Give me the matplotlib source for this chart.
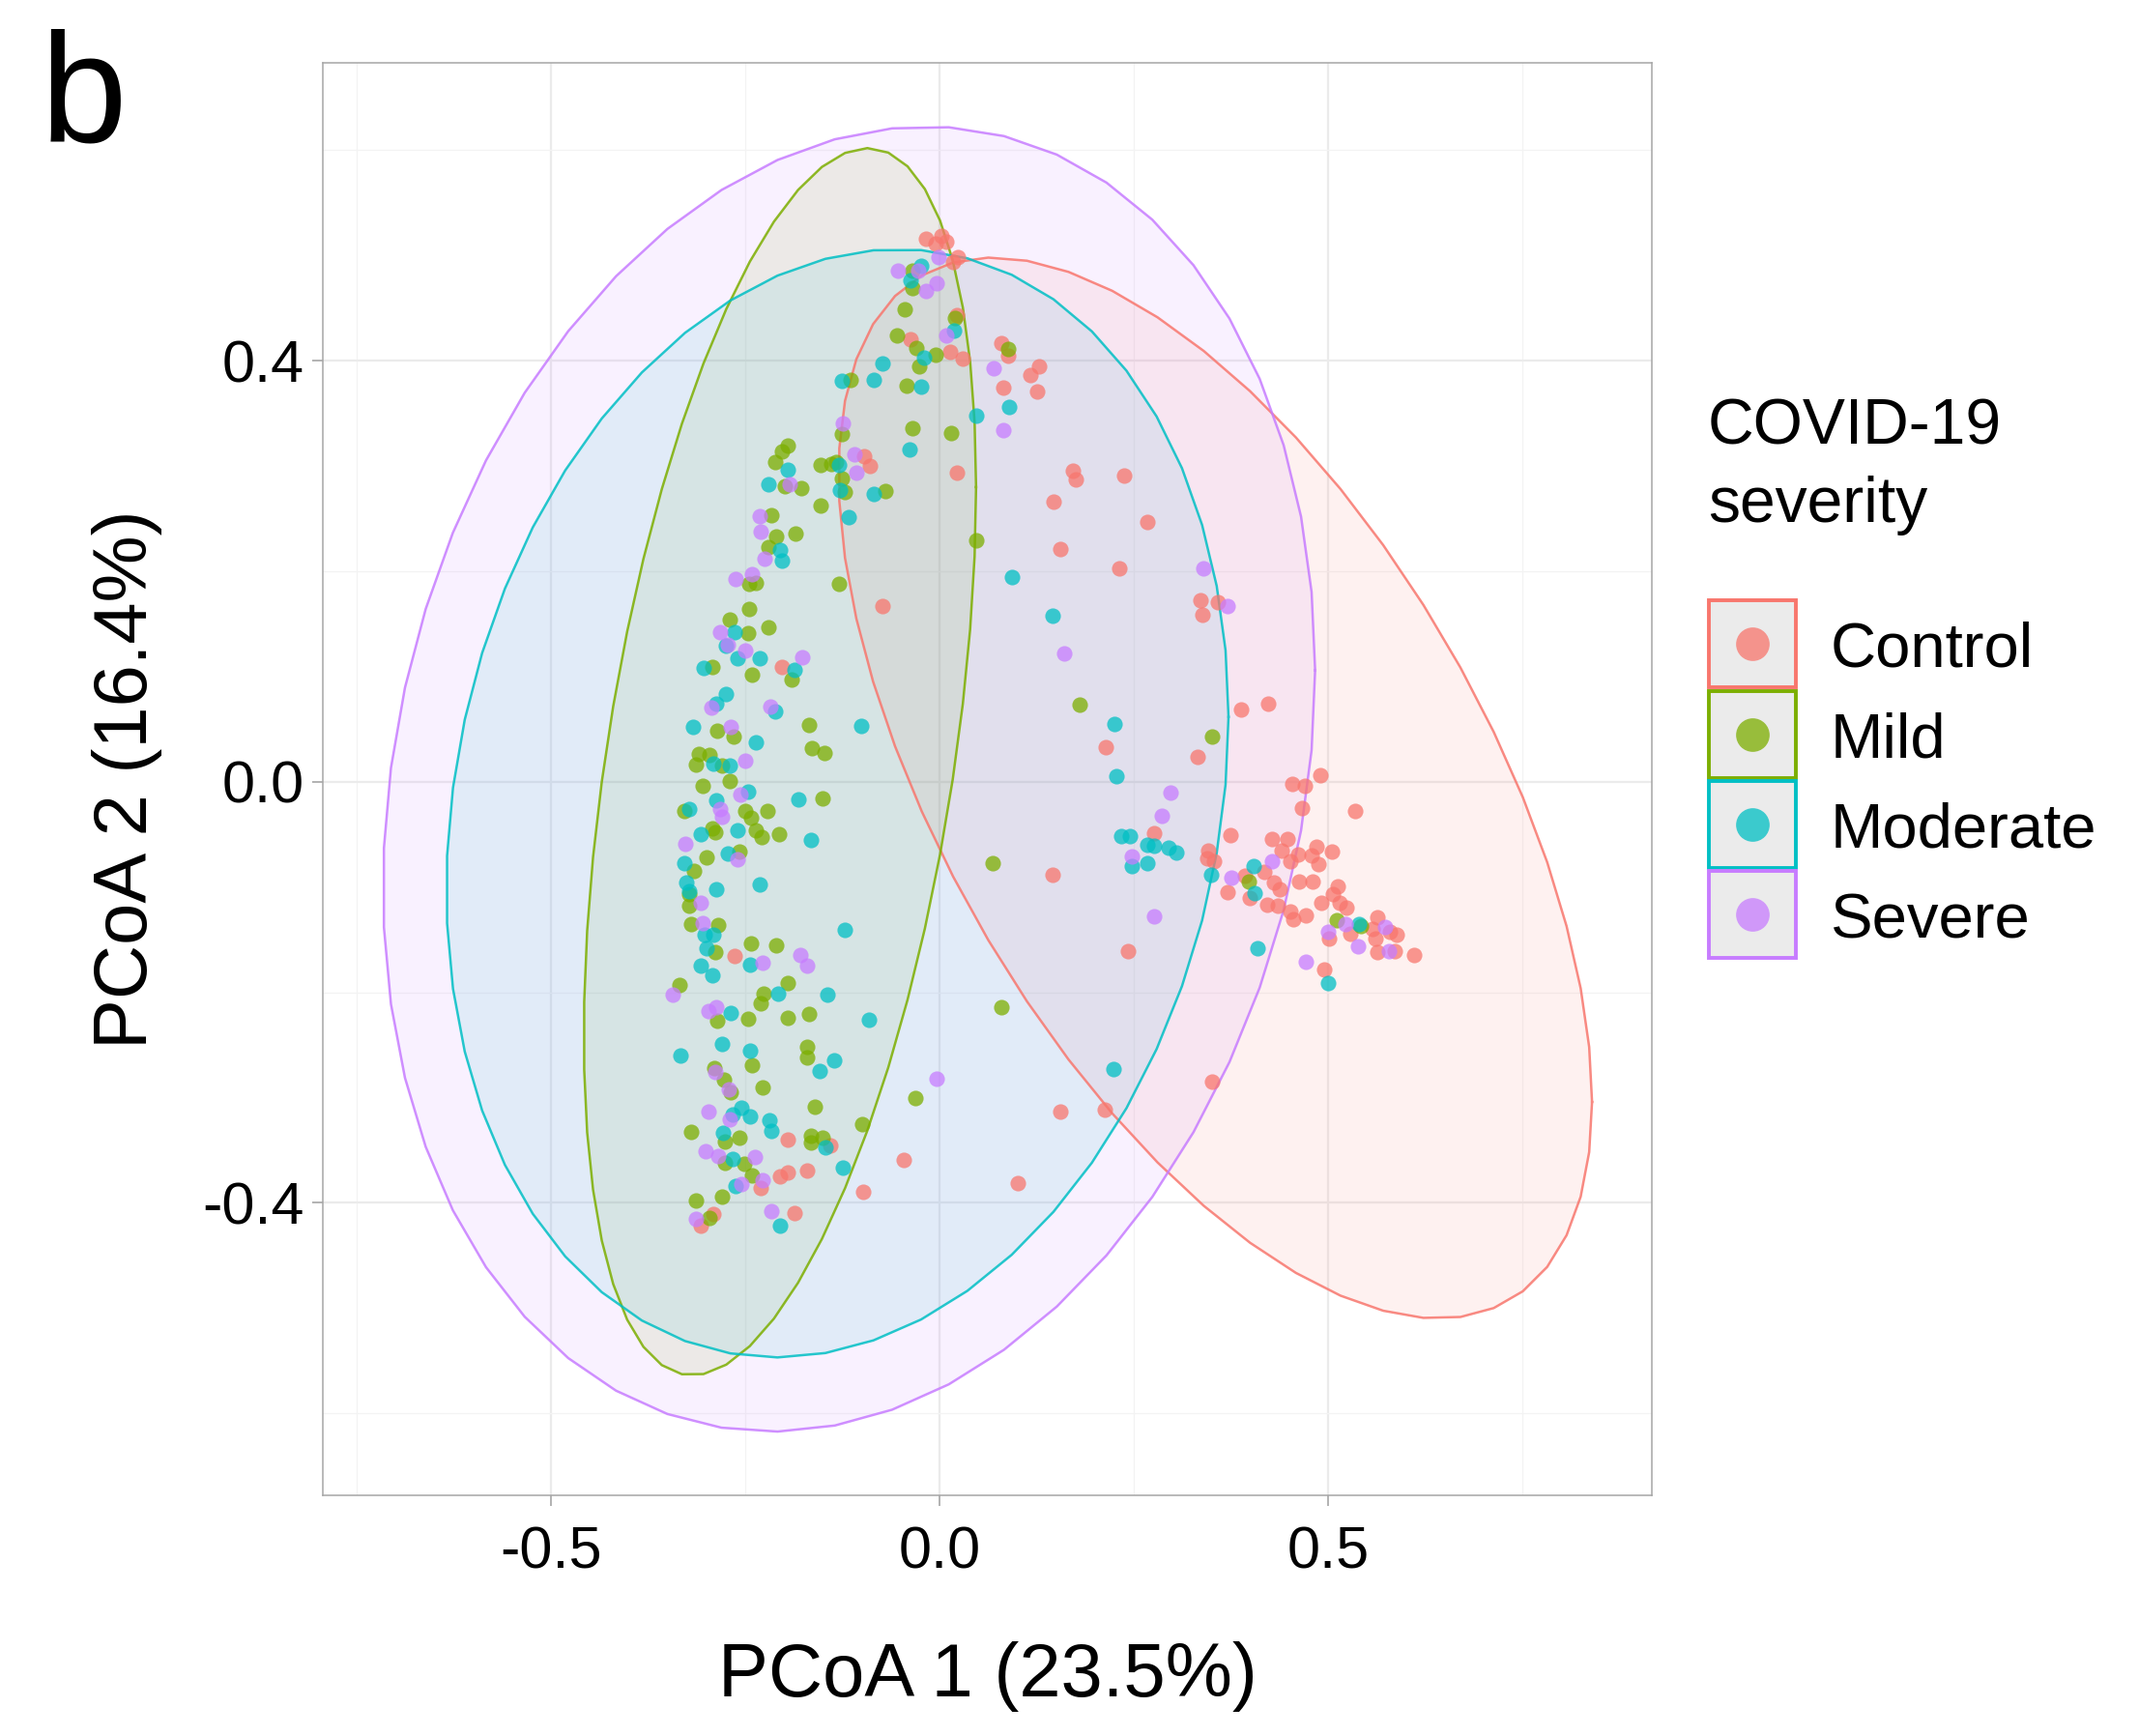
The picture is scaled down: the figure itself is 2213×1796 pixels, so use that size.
import numpy as np
import matplotlib
matplotlib.use("Agg")
import matplotlib.pyplot as plt
from matplotlib.patches import Rectangle
from matplotlib.lines import Line2D

plt.rcParams['font.family'] = ['Liberation Sans', 'DejaVu Sans']

# groups and ggplot default hue colours
groups = ['Control', 'Mild', 'Moderate', 'Severe']
colors = ['#F8766D', '#7CAE00', '#00BFC4', '#C77CFF']

# PCoA coordinates (PCoA1, PCoA2)
control_pts = np.array([
    (-0.018, 0.516), (0.003, 0.519), (0.009, 0.513), (-0.005, 0.511), (0.023, 0.498),
    (0.017, 0.494), (0.022, 0.443), (-0.037, 0.420), (0.013, 0.408), (0.030, 0.402),
    (0.080, 0.417), (0.088, 0.405), (0.082, 0.374), (0.117, 0.386), (0.128, 0.395),
    (0.126, 0.371), (-0.097, 0.309), (-0.090, 0.300), (0.022, 0.294),
    (0.172, 0.295), (0.175, 0.287), (0.238, 0.291), (0.147, 0.266), (0.267, 0.247),
    (0.155, 0.221), (0.231, 0.203), (-0.203, 0.109), (-0.073, 0.167),
    (0.336, 0.172), (0.358, 0.171), (0.338, 0.159), (0.388, 0.069), (0.423, 0.074),
    (0.214, 0.033), (0.332, 0.024), (0.490, 0.006), (0.454, -0.002), (0.470, -0.004),
    (0.535, -0.028), (0.466, -0.025), (0.276, -0.049), (0.375, -0.051), (0.428, -0.054),
    (0.448, -0.054), (0.346, -0.065), (0.345, -0.073), (0.353, -0.076), (0.440, -0.065),
    (0.461, -0.069), (0.451, -0.076), (0.485, -0.062), (0.479, -0.070), (0.488, -0.078),
    (0.505, -0.066), (0.418, -0.086), (0.393, -0.089), (0.430, -0.096), (0.438, -0.102),
    (0.463, -0.095), (0.480, -0.095), (0.513, -0.099), (0.506, -0.107), (0.371, -0.105),
    (0.399, -0.110), (0.145, -0.088),
    (0.422, -0.117), (0.436, -0.118), (0.451, -0.123), (0.455, -0.131), (0.471, -0.127),
    (0.492, -0.115), (0.515, -0.115), (0.524, -0.120), (0.501, -0.149), (0.529, -0.144),
    (0.563, -0.129), (0.557, -0.140), (0.561, -0.149), (0.580, -0.143), (0.588, -0.145),
    (0.563, -0.162), (0.586, -0.161), (0.611, -0.165), (0.495, -0.178), (0.243, -0.161),
    (0.156, -0.313), (0.213, -0.312), (0.351, -0.285),
    (-0.264, -0.166), (-0.195, -0.340), (-0.141, -0.346), (-0.206, -0.375), (-0.195, -0.371),
    (-0.170, -0.369), (-0.230, -0.386), (-0.187, -0.410), (-0.291, -0.411), (-0.308, -0.422),
    (-0.098, -0.390), (-0.046, -0.359), (0.101, -0.381),
])

mild_pts = np.array([
    (-0.035, 0.486), (-0.035, 0.469), (-0.045, 0.449), (0.020, 0.441), (-0.055, 0.424),
    (-0.030, 0.412), (-0.005, 0.406), (-0.026, 0.395), (0.088, 0.411), (-0.114, 0.382),
    (-0.042, 0.376), (-0.035, 0.336), (0.015, 0.331), (-0.126, 0.330), (-0.195, 0.319),
    (-0.203, 0.314), (-0.212, 0.304), (-0.153, 0.301), (-0.139, 0.302), (-0.133, 0.304),
    (-0.126, 0.288), (-0.122, 0.275), (-0.199, 0.281), (-0.178, 0.279), (-0.153, 0.262),
    (-0.070, 0.276), (-0.216, 0.253), (-0.210, 0.233), (-0.185, 0.236), (-0.220, 0.223),
    (0.047, 0.229),
    (-0.245, 0.188), (-0.237, 0.189), (-0.129, 0.188), (-0.245, 0.164), (-0.270, 0.154),
    (-0.220, 0.147), (-0.247, 0.141), (-0.292, 0.109), (-0.242, 0.102), (-0.190, 0.097),
    (-0.168, 0.054), (-0.286, 0.048), (-0.265, 0.043), (-0.164, 0.032), (-0.148, 0.027),
    (-0.310, 0.026), (-0.296, 0.025), (-0.314, 0.016), (-0.280, 0.015), (-0.305, -0.004),
    (-0.270, 0.001), (-0.151, -0.016), (-0.329, -0.028), (-0.250, -0.028), (-0.243, -0.034),
    (-0.222, -0.028), (-0.293, -0.044), (-0.289, -0.048), (-0.237, -0.046), (-0.229, -0.053),
    (-0.207, -0.050), (-0.300, -0.072), (-0.258, -0.066), (-0.316, -0.085), (-0.323, -0.107),
    (0.068, -0.077), (0.180, 0.073), (0.351, 0.043), (0.398, -0.095), (0.511, -0.132),
    (0.542, -0.137),
    (-0.323, -0.118), (-0.320, -0.135), (-0.285, -0.136), (-0.289, -0.162), (-0.243, -0.154),
    (-0.211, -0.155), (-0.335, -0.193), (-0.196, -0.191), (-0.226, -0.201), (-0.230, -0.211),
    (-0.286, -0.227), (-0.246, -0.225), (-0.196, -0.224), (-0.168, -0.221), (-0.170, -0.252),
    (-0.170, -0.262), (-0.241, -0.269), (-0.290, -0.272), (-0.278, -0.283), (-0.269, -0.295),
    (-0.228, -0.290), (-0.161, -0.309), (-0.100, -0.325), (-0.320, -0.333), (-0.276, -0.342),
    (-0.258, -0.338), (-0.165, -0.336), (-0.151, -0.338), (-0.165, -0.343), (-0.276, -0.362),
    (-0.251, -0.363), (-0.241, -0.374), (-0.314, -0.398), (-0.280, -0.394), (-0.296, -0.414),
    (0.080, -0.214), (-0.031, -0.301),
])

moderate_pts = np.array([
    (-0.024, 0.490), (-0.037, 0.476), (0.018, 0.429), (-0.020, 0.403), (-0.074, 0.397),
    (-0.126, 0.381), (-0.085, 0.382), (-0.024, 0.375), (0.047, 0.348), (0.090, 0.356),
    (-0.039, 0.316), (-0.195, 0.296), (-0.220, 0.283), (-0.130, 0.301), (-0.128, 0.277),
    (-0.085, 0.273), (-0.117, 0.251), (-0.205, 0.220), (-0.203, 0.210),
    (0.093, 0.194), (-0.264, 0.142), (-0.275, 0.129), (-0.260, 0.117), (-0.232, 0.117),
    (-0.304, 0.108), (-0.187, 0.106), (-0.275, 0.083), (-0.287, 0.074), (-0.212, 0.067),
    (-0.318, 0.052), (-0.101, 0.053), (-0.237, 0.037), (-0.291, 0.017), (-0.270, 0.015),
    (-0.247, -0.009), (-0.182, -0.017), (-0.288, -0.018), (-0.323, -0.026), (-0.307, -0.050),
    (-0.260, -0.046), (-0.166, -0.055), (-0.272, -0.068), (-0.329, -0.077), (-0.326, -0.096),
    (-0.323, -0.104), (-0.287, -0.102), (-0.231, -0.098),
    (0.146, 0.158), (0.225, 0.055), (0.228, 0.005), (0.234, -0.052), (0.245, -0.052),
    (0.268, -0.060), (0.276, -0.061), (0.295, -0.063), (0.305, -0.067), (0.247, -0.080),
    (0.268, -0.077), (0.349, -0.088), (0.404, -0.080), (0.406, -0.106),
    (0.540, -0.135), (0.409, -0.158), (0.500, -0.191), (0.224, -0.273),
    (-0.303, -0.145), (-0.291, -0.145), (-0.300, -0.158), (-0.308, -0.175), (-0.293, -0.184),
    (-0.244, -0.174), (-0.208, -0.201), (-0.144, -0.202), (-0.269, -0.220), (-0.091, -0.226),
    (-0.280, -0.249), (-0.244, -0.256), (-0.334, -0.260), (-0.136, -0.265), (-0.155, -0.275),
    (-0.255, -0.310), (-0.267, -0.316), (-0.244, -0.318), (-0.219, -0.322), (-0.217, -0.332),
    (-0.279, -0.334), (-0.266, -0.358), (-0.147, -0.347), (-0.263, -0.384), (-0.125, -0.367),
    (-0.122, -0.141), (-0.205, -0.422),
])

severe_pts = np.array([
    (-0.053, 0.486), (-0.028, 0.486), (-0.001, 0.498), (-0.004, 0.474), (-0.017, 0.466),
    (0.009, 0.424), (0.070, 0.393), (0.082, 0.334), (-0.124, 0.340), (-0.110, 0.311),
    (-0.107, 0.294), (-0.193, 0.283), (-0.232, 0.252), (-0.230, 0.238), (-0.225, 0.212),
    (0.340, 0.203),
    (-0.263, 0.193), (-0.241, 0.197), (-0.282, 0.142), (-0.272, 0.130), (-0.250, 0.125),
    (-0.177, 0.118), (-0.294, 0.070), (-0.218, 0.071), (-0.269, 0.052), (-0.250, 0.020),
    (-0.256, -0.012), (-0.283, -0.026), (-0.280, -0.033), (-0.327, -0.059), (-0.260, -0.074),
    (-0.307, -0.115),
    (0.371, 0.167), (0.160, 0.122), (0.297, -0.010), (0.286, -0.032), (0.248, -0.071),
    (0.428, -0.076), (0.376, -0.091),
    (0.276, -0.128), (0.523, -0.135), (0.500, -0.143), (0.573, -0.138), (0.539, -0.156),
    (0.579, -0.161), (0.471, -0.171),
    (-0.305, -0.134), (-0.228, -0.172), (-0.179, -0.165), (-0.170, -0.175), (-0.343, -0.202),
    (-0.297, -0.218), (-0.287, -0.214), (-0.289, -0.276), (-0.271, -0.292), (-0.297, -0.313),
    (-0.270, -0.321), (-0.301, -0.351), (-0.285, -0.356), (-0.238, -0.357), (-0.255, -0.382),
    (-0.228, -0.379), (-0.314, -0.415), (-0.217, -0.408), (-0.004, -0.282),
])

group_pts = [control_pts, mild_pts, moderate_pts, severe_pts]

# confidence ellipses: centre, half extents, x offset of topmost point
ell_cx = [0.355, -0.2055, -0.1315, -0.1165]
ell_cy = [-0.006, 0.019, -0.0205, 0.0025]
ell_rx = [0.485, 0.2525, 0.5035, 0.600]
ell_ry = [0.504, 0.583, 0.5265, 0.620]
ell_top_dx = [-0.287, 0.113, 0.0785, 0.100]

fig = plt.figure(figsize=(22.13, 17.96), dpi=100)
ax = fig.add_axes([334 / 2213, 1 - 1547 / 1796, 1375 / 2213, 1482 / 1796])

t = np.linspace(0, 2 * np.pi, 52)
for i, c in enumerate(colors):
    rx, ry = ell_rx[i], ell_ry[i]
    l10 = ell_top_dx[i] * ry / rx
    l11 = np.sqrt(ry ** 2 - l10 ** 2)
    ex = ell_cx[i] + rx * np.cos(t)
    ey = ell_cy[i] + l10 * np.cos(t) + l11 * np.sin(t)
    ax.fill(ex, ey, color=c, alpha=0.1, lw=0, zorder=1)
    ax.plot(ex, ey, color=c, lw=1.8, alpha=0.85, zorder=2)

for pts, c in zip(group_pts, colors):
    ax.scatter(pts[:, 0], pts[:, 1], s=135, color=c, alpha=0.75, linewidths=0, zorder=3)

ax.set_xlim(-0.794, 0.917)
ax.set_ylim(-0.678, 0.683)
ax.set_xticks([-0.5, 0.0, 0.5])
ax.set_xticklabels(['-0.5', '0.0', '0.5'])
ax.set_yticks([-0.4, 0.0, 0.4])
ax.set_yticklabels(['-0.4', '0.0', '0.4'])
ax.set_xticks([-0.75, -0.25, 0.25, 0.75], minor=True)
ax.set_yticks([-0.6, -0.2, 0.2, 0.6], minor=True)
ax.set_axisbelow(True)
ax.grid(which='major', color='#EBEBEB', lw=1.6)
ax.grid(which='minor', color='#F3F3F3', lw=0.9)
ax.tick_params(which='minor', length=0)
ax.tick_params(which='major', length=8, width=1.2, color='#A6A6A6', labelsize=44, labelcolor='black')
ax.tick_params(axis='x', pad=15)
ax.tick_params(axis='y', pad=6)
for s in ax.spines.values():
    s.set_color('#A6A6A6')
    s.set_linewidth(1.1)

ax.set_xlabel('PCoA 1 (23.5%)', fontsize=56, va='center')
ax.xaxis.set_label_coords(0.5, -0.1262)
ax.set_ylabel('PCoA 2 (16.4%)', fontsize=56, va='center')
ax.yaxis.set_label_coords(-0.1476, 0.5)

fig.text(0.019, 1 - 147 / 1796, 'b', fontsize=116, va='baseline', ha='left')

# legend
fig.text(1767 / 2213, 1 - 459 / 1796, 'COVID-19', fontsize=47.5, va='baseline', ha='left')
fig.text(1767 / 2213, 1 - 540 / 1796, 'severity', fontsize=47.5, va='baseline', ha='left')
for i, (g, c) in enumerate(zip(groups, colors)):
    top = 621 + i * 93.5
    fig.add_artist(Rectangle((1768 / 2213, 1 - (top + 90) / 1796), 90 / 2213, 90 / 1796,
                             transform=fig.transFigure, facecolor='#EBEBEB',
                             edgecolor=c, lw=2.8))
    fig.add_artist(Line2D([(1768 + 45) / 2213], [1 - (top + 45) / 1796],
                          transform=fig.transFigure, marker='o', ms=25, color=c,
                          alpha=0.75, ls='none', markeredgewidth=0))
    fig.text(1894 / 2213, 1 - (top + 52) / 1796, g, fontsize=47, va='center', ha='left')

fig.savefig('out.png', dpi=100)
